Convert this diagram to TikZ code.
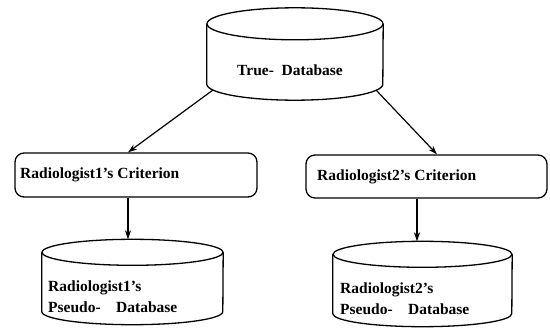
\documentclass[tikz,border=0pt]{standalone}
\usepackage{fontspec}
\setmainfont{Liberation Serif}
\usetikzlibrary{arrows.meta}
\tikzset{
	db/.style={inner sep=0pt},
	dbline/.style={line width=1.3pt},
	crit/.style={draw, line width=1.3pt, rounded corners=9pt, inner sep=0pt},
	txt/.style={inner sep=0pt, align=left},
}
% cylinder outline round a named box: #1 name, #2 x radius, #3 y radius
\newcommand{\dbshape}[3]{%
	\draw[dbline] ([yshift=-#3]#1.north) ellipse [x radius=#2, y radius=#3];
	\draw[dbline] ([yshift=-#3]#1.north west) -- ([yshift=#3]#1.south west)
		arc [start angle=180, end angle=360, x radius=#2, y radius=#3]
		-- ([yshift=-#3]#1.north east);
}
\begin{document}
\begin{tikzpicture}[x=1pt, y=-1pt, >={Stealth[length=9pt,width=6pt]},
	font=\fontsize{15.5}{21}\selectfont\bfseries]
	% --- frame ---
	\useasboundingbox (0,0) rectangle (550,329);
	
	% --- databases ---
	\node[db, minimum width=176pt, minimum height=92pt] (TDB) at (295,54) {};
	\node[db, minimum width=181pt, minimum height=85pt] (PDB1) at (132.5,282) {};
	\node[db, minimum width=179pt, minimum height=85pt] (PDB2) at (422.5,284) {};
	\dbshape{TDB}{88pt}{16pt}
	\dbshape{PDB1}{90.5pt}{13pt}
	\dbshape{PDB2}{89.5pt}{13pt}
	
	% --- criterion boxes ---
	\node[crit, minimum width=242pt, minimum height=44pt] (C1) at (136,175) {};
	\node[crit, minimum width=241pt, minimum height=43pt] (C2) at (426.5,176.5) {};
	
	% --- texts ---
	\node[txt] (TDBt) at (290,70) {True-\ \ Database};
	\node[txt, anchor=west] (C1t) at (20,175) {Radiologist1's Criterion};
	\node[txt, anchor=west] (C2t) at (317,177) {Radiologist2's Criterion};
	\node[txt, anchor=west] (PDB1t) at (48,297) {Radiologist1's\\Pseudo-\quad Database};
	\node[txt, anchor=west] (PDB2t) at (340,299) {Radiologist2's\\Pseudo-\quad Database};
	
	% --- arrows ---
	\draw[->, line width=1.2pt] ([shift={(-82,36)}]TDB.center) -- ([xshift=-8pt]C1.north);
	\draw[->, line width=1.2pt] ([shift={(81,36)}]TDB.center) -- ([xshift=10.5pt]C2.north);
	\draw[->, line width=1.2pt] ([xshift=-8pt]C1.south) -- ([xshift=-4.5pt]PDB1.north);
	\draw[->, line width=1.2pt] ([xshift=-9.5pt]C2.south) -- ([xshift=-5.5pt]PDB2.north);
\end{tikzpicture}
\end{document}
